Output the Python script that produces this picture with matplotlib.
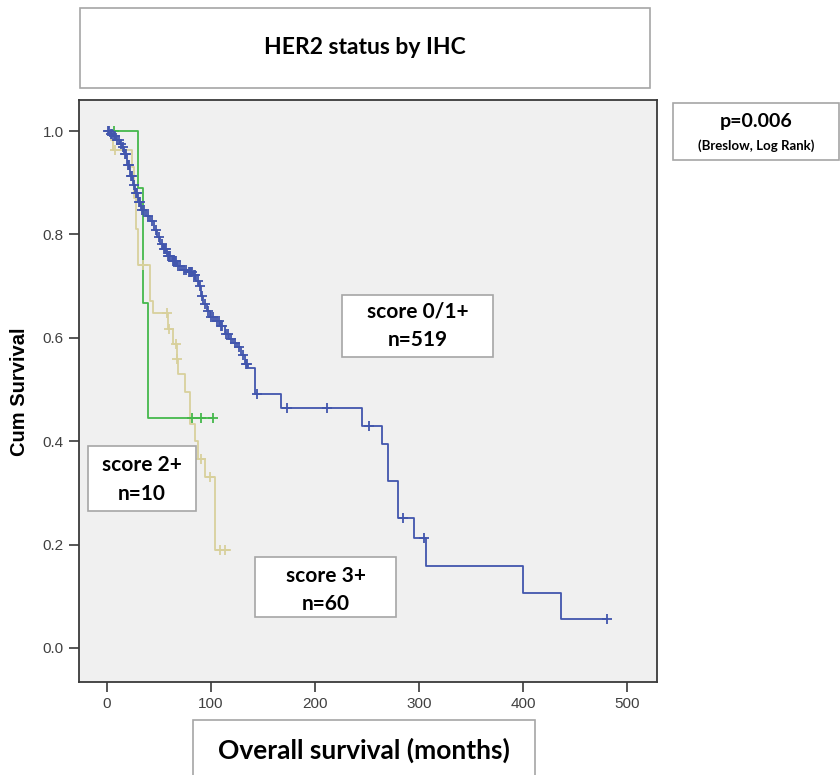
"""
Kaplan-Meier chart: overall survival by HER2 status (IHC score).
Boxes and labels are placed in pixel units of the 840x775 canvas.
"""
import numpy as np
import matplotlib
matplotlib.use("Agg")
import matplotlib.pyplot as plt
from matplotlib.patches import Rectangle

W, H = 840, 775

# --- score 0/1+ (n=519) : step times (months) and cumulative survival ---
blue_t = [0, 3, 6, 9, 12, 14, 16, 19, 22, 25, 27, 30, 33, 37, 41, 45, 48, 51,
          54, 58, 62, 67, 72, 78, 83, 86, 88, 90, 92, 96, 99, 104, 109, 113,
          117, 121, 125, 129, 133, 136, 142, 167, 245, 264, 270, 280, 295,
          307, 400, 437]
blue_s = [1.0, 0.995, 0.99, 0.982, 0.975, 0.969, 0.955, 0.935, 0.912, 0.895,
          0.88, 0.862, 0.848, 0.836, 0.825, 0.808, 0.795, 0.782, 0.772, 0.758,
          0.748, 0.739, 0.732, 0.727, 0.722, 0.71, 0.70, 0.68, 0.665, 0.652,
          0.64, 0.632, 0.622, 0.607, 0.597, 0.59, 0.582, 0.567, 0.55, 0.542,
          0.491, 0.464, 0.429, 0.394, 0.322, 0.252, 0.212, 0.159, 0.107, 0.056]
blue_end = 481
blue_cens = [1, 2, 4, 5, 7, 8, 10, 11, 13, 15, 17, 18, 20, 21, 23, 24, 26,
             28, 29, 31, 32, 34, 36, 39, 43, 47, 50, 53, 55, 56, 57, 59, 60,
             61, 63, 64, 65, 66, 68, 70, 74, 76, 79, 80, 81, 82, 84, 85, 87,
             89, 91, 94, 97, 100, 102, 106, 108, 110, 111, 114, 116, 119, 123,
             127, 131, 134, 135, 144, 173, 212, 252, 285, 305, 481]

# --- score 2+ (n=10) ---
green_t = [0, 30, 34.5, 39]
green_s = [1.0, 0.889, 0.667, 0.444]
green_end = 102
green_cens = [7, 82, 90, 102]

# --- score 3+ (n=60) ---
tan_t = [0, 4, 6, 24, 26, 28, 30, 41, 44, 59, 63.5, 67, 68, 75, 80, 85, 87.5,
         94, 104]
tan_s = [1.0, 0.983, 0.963, 0.93, 0.87, 0.81, 0.74, 0.672, 0.647, 0.617,
         0.588, 0.559, 0.53, 0.495, 0.433, 0.40, 0.365, 0.33, 0.19]
tan_end = 118
tan_cens = [8, 35, 58, 60, 66, 67.5, 90, 99, 109, 113]

x_ticks = [0, 100, 200, 300, 400, 500]
y_ticks = [0.0, 0.2, 0.4, 0.6, 0.8, 1.0]

BLUE = "#4256ad"
GREEN = "#45b84c"
TAN = "#d8d09c"
FRAME = "#3a3a3a"
BOXEDGE = "#a6a6a6"
BOXFONT = "Lato"
AXFONT = "Liberation Sans"


def fbox(fig, x0, y0, x1, y1, lines, sizes, ys):
    """Rectangle given in canvas pixels (y down) with centred text lines."""
    fig.patches.append(Rectangle((x0 / W, 1 - y1 / H), (x1 - x0) / W,
                                 (y1 - y0) / H, transform=fig.transFigure,
                                 facecolor="white", edgecolor=BOXEDGE,
                                 lw=1.2, zorder=10))
    for txt, fs, yy in zip(lines, sizes, ys):
        fig.text((x0 + x1) / 2 / W, 1 - yy / H, txt, ha="center",
                 va="center", fontsize=fs, fontweight="bold",
                 family=BOXFONT, color="black", zorder=11)


def km(ax, t, s, end, cens, color):
    t = np.asarray(t, dtype=float)
    s = np.asarray(s, dtype=float)
    ax.step(np.append(t, end), np.append(s, s[-1]), where="post",
            color=color, lw=1.3, zorder=3)
    c = np.asarray(cens, dtype=float)
    cy = s[np.searchsorted(t, c, side="right") - 1]
    ax.plot(c, cy, "+", color=color, ms=7, mew=1.3, zorder=4)


fig = plt.figure(figsize=(W / 100, H / 100), dpi=100)
fig.patch.set_facecolor("white")

ax_l, ax_r, ax_t, ax_b = 79, 657, 100, 682
ax = fig.add_axes([ax_l / W, 1 - ax_b / H, (ax_r - ax_l) / W,
                   (ax_b - ax_t) / H])
ax.set_facecolor("#f0f0f0")

km(ax, tan_t, tan_s, tan_end, tan_cens, TAN)
km(ax, green_t, green_s, green_end, green_cens, GREEN)
km(ax, blue_t, blue_s, blue_end, blue_cens, BLUE)

ax.set_xlim(-27, 529)
ax.set_ylim(-0.066, 1.06)
ax.set_xticks(x_ticks)
ax.set_yticks(y_ticks)
ax.set_yticklabels(["%.1f" % v for v in y_ticks])
ax.tick_params(direction="out", length=7, width=1.2, color=FRAME,
               labelsize=11, labelcolor="#404040", pad=4)
for lab in ax.get_xticklabels() + ax.get_yticklabels():
    lab.set_family(AXFONT)
for sp in ax.spines.values():
    sp.set_color(FRAME)
    sp.set_linewidth(1.3)

fig.text(20 / W, 1 - 392 / H, "Cum Survival", rotation=90, ha="center",
         va="center", fontsize=14.5, fontweight="bold", family=AXFONT)

fbox(fig, 80, 8, 650, 88, ["HER2 status by IHC"], [16.5], [48])
fbox(fig, 673, 103, 839, 160, ["p=0.006", "(Breslow, Log Rank)"],
     [14, 9.5], [122, 146])
fbox(fig, 342, 295, 493, 357, ["score 0/1+", "n=519"], [15, 15],
     [312, 340])
fbox(fig, 88, 446, 196, 511, ["score 2+", "n=10"], [15, 15], [465, 494])
fbox(fig, 255, 557, 396, 617, ["score 3+", "n=60"], [15, 15],
     [576, 604])
fbox(fig, 193, 720, 535, 790, ["Overall survival (months)"], [19], [750])

fig.savefig("out.png", dpi=100, facecolor="white")
